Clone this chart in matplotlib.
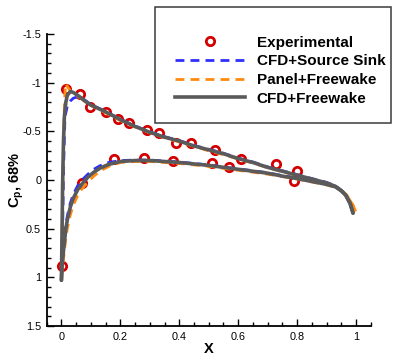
import matplotlib
matplotlib.use("Agg")
import matplotlib.pyplot as plt
from matplotlib.lines import Line2D
from matplotlib.patches import Rectangle
from matplotlib.ticker import MultipleLocator, FuncFormatter

plt.rcParams['font.family'] = ['Liberation Sans', 'DejaVu Sans']
plt.rcParams['mathtext.fontset'] = 'custom'
plt.rcParams['mathtext.rm'] = 'Liberation Sans'
plt.rcParams['mathtext.bf'] = 'Liberation Sans:bold'

# ---------------- data ----------------
exp_x_upper = [0.014, 0.062, 0.098, 0.152, 0.193, 0.229, 0.289, 0.330, 0.39, 0.44, 0.52, 0.61, 0.73, 0.80]
exp_cp_upper = [-0.94, -0.88, -0.75, -0.70, -0.63, -0.59, -0.51, -0.48, -0.38, -0.38, -0.31, -0.22, -0.16, -0.09]
exp_x_lower = [0.002, 0.07, 0.178, 0.28, 0.38, 0.51, 0.57, 0.79]
exp_cp_lower = [0.88, 0.03, -0.22, -0.23, -0.20, -0.17, -0.13, 0.01]

# CFD + Freewake
cfdfw_x_upper = [0.0, 0.002, 0.004, 0.007, 0.01, 0.015, 0.02, 0.03, 0.04, 0.06, 0.08, 0.10, 0.15, 0.20,
                 0.25, 0.30, 0.35, 0.40, 0.45, 0.50, 0.55, 0.60, 0.65, 0.70, 0.75, 0.80, 0.85, 0.90,
                 0.93, 0.95, 0.965, 0.98, 0.99]
cfdfw_cp_upper = [1.03, 0.55, 0.05, -0.40, -0.65, -0.80, -0.87, -0.91, -0.90, -0.86, -0.81, -0.77, -0.70, -0.62,
                  -0.55, -0.49, -0.44, -0.40, -0.35, -0.31, -0.27, -0.22, -0.18, -0.13, -0.09, -0.05, -0.01, 0.03,
                  0.065, 0.11, 0.155, 0.24, 0.34]
cfdfw_x_lower = [0.0, 0.003, 0.008, 0.015, 0.02, 0.03, 0.04, 0.055, 0.07, 0.09, 0.11, 0.13, 0.16, 0.20,
                 0.25, 0.30, 0.35, 0.40, 0.45, 0.50, 0.55, 0.60, 0.65, 0.70, 0.75, 0.80, 0.85, 0.90,
                 0.93, 0.95, 0.965, 0.98, 0.99]
cfdfw_cp_lower = [1.03, 0.85, 0.70, 0.50, 0.41, 0.28, 0.19, 0.10, 0.04, -0.03, -0.08, -0.12, -0.16, -0.19,
                  -0.20, -0.20, -0.19, -0.18, -0.165, -0.15, -0.13, -0.11, -0.09, -0.07, -0.04, -0.015, 0.015, 0.045,
                  0.07, 0.11, 0.155, 0.24, 0.34]

# CFD + Source Sink
cfdss_x_upper = [0.0, 0.004, 0.008, 0.012, 0.02, 0.03, 0.04, 0.06, 0.08, 0.10, 0.15, 0.20,
                 0.25, 0.30, 0.35, 0.40, 0.45, 0.50, 0.55, 0.60, 0.65, 0.70, 0.75, 0.80, 0.85, 0.90,
                 0.93, 0.95, 0.965, 0.98, 0.99]
cfdss_cp_upper = [1.03, 0.50, -0.20, -0.65, -0.76, -0.81, -0.84, -0.86, -0.82, -0.775, -0.705, -0.625,
                  -0.555, -0.495, -0.445, -0.405, -0.355, -0.315, -0.275, -0.225, -0.185, -0.135, -0.095, -0.055, -0.015, 0.025,
                  0.06, 0.105, 0.15, 0.235, 0.34]
cfdss_x_lower = [0.0, 0.003, 0.008, 0.015, 0.02, 0.03, 0.04, 0.055, 0.07, 0.09, 0.11, 0.13, 0.16, 0.20,
                 0.25, 0.30, 0.35, 0.40, 0.45, 0.50, 0.55, 0.60, 0.65, 0.70, 0.75, 0.80, 0.85, 0.90,
                 0.93, 0.95, 0.965, 0.98, 0.99]
cfdss_cp_lower = [1.03, 0.82, 0.66, 0.46, 0.37, 0.24, 0.15, 0.06, 0.00, -0.06, -0.11, -0.145, -0.18, -0.20,
                  -0.205, -0.205, -0.195, -0.185, -0.17, -0.155, -0.135, -0.115, -0.095, -0.075, -0.045, -0.02, 0.01, 0.04,
                  0.065, 0.105, 0.15, 0.235, 0.34]

# Panel + Freewake
panel_x_upper = [0.0, 0.003, 0.006, 0.009, 0.012, 0.015, 0.02, 0.03, 0.04, 0.06, 0.08, 0.10, 0.15, 0.20,
                 0.25, 0.30, 0.35, 0.40, 0.45, 0.50, 0.55, 0.60, 0.65, 0.70, 0.75, 0.80, 0.85, 0.90,
                 0.93, 0.95, 0.97, 0.99, 1.0]
panel_cp_upper = [1.0, 0.40, -0.20, -0.65, -0.90, -0.99, -0.96, -0.92, -0.89, -0.85, -0.81, -0.765, -0.69, -0.61,
                  -0.545, -0.485, -0.435, -0.39, -0.345, -0.30, -0.26, -0.215, -0.175, -0.125, -0.085, -0.045, -0.005, 0.035,
                  0.065, 0.10, 0.16, 0.26, 0.33]
panel_x_lower = [0.0, 0.003, 0.008, 0.015, 0.02, 0.03, 0.04, 0.055, 0.07, 0.09, 0.11, 0.13, 0.16, 0.20,
                 0.25, 0.30, 0.35, 0.40, 0.45, 0.50, 0.55, 0.60, 0.65, 0.70, 0.75, 0.80, 0.85, 0.90,
                 0.93, 0.95, 0.97, 0.99, 1.0]
panel_cp_lower = [1.0, 0.90, 0.78, 0.60, 0.50, 0.36, 0.26, 0.16, 0.09, 0.02, -0.04, -0.09, -0.14, -0.18,
                  -0.19, -0.19, -0.18, -0.17, -0.155, -0.14, -0.12, -0.10, -0.08, -0.06, -0.035, -0.01, 0.02, 0.05,
                  0.075, 0.11, 0.16, 0.26, 0.33]

labels = ["Experimental", "CFD+Source Sink", "Panel+Freewake", "CFD+Freewake"]
x_ticks = [0, 0.2, 0.4, 0.6, 0.8, 1]
y_ticks = [-1.5, -1, -0.5, 0, 0.5, 1, 1.5]

# ---------------- styles ----------------
RED = '#d40000'
BLUE = '#2f2fff'
ORANGE = '#ff8a10'
GRAY = '#5a5a5a'

fig = plt.figure(figsize=(4.01, 3.56), dpi=100)
ax = fig.add_axes([46.7 / 401, 1 - 326 / 356, (370.7 - 46.7) / 401, (326 - 34) / 356])

dash = (3.2, 2.2)
ax.plot(exp_x_upper, exp_cp_upper, 'o', ms=6, mfc='none', mec=RED, mew=2, zorder=2)
ax.plot(exp_x_lower, exp_cp_lower, 'o', ms=6, mfc='none', mec=RED, mew=2, zorder=2)
for xs, ys in [(cfdss_x_upper, cfdss_cp_upper), (cfdss_x_lower, cfdss_cp_lower)]:
    ax.plot(xs, ys, color=BLUE, lw=2, ls=(0, dash), zorder=3)
for xs, ys in [(panel_x_upper, panel_cp_upper), (panel_x_lower, panel_cp_lower)]:
    ax.plot(xs, ys, color=ORANGE, lw=2, ls=(0, dash), zorder=3)
for xs, ys in [(cfdfw_x_upper, cfdfw_cp_upper), (cfdfw_x_lower, cfdfw_cp_lower)]:
    ax.plot(xs, ys, color=GRAY, lw=2.6, solid_capstyle='round', zorder=4)

ax.set_xlim(-0.05, 1.05)
ax.set_ylim(1.5, -1.5)

ax.spines['top'].set_visible(False)
ax.spines['right'].set_visible(False)
for s in ['left', 'bottom']:
    ax.spines[s].set_linewidth(1.3)
    ax.spines[s].set_color('black')

ax.set_xticks(x_ticks)
ax.set_yticks(y_ticks)
ax.xaxis.set_minor_locator(MultipleLocator(0.05))
ax.yaxis.set_minor_locator(MultipleLocator(0.1))
fmt = FuncFormatter(lambda v, p: ('%g' % v))
ax.xaxis.set_major_formatter(fmt)
ax.yaxis.set_major_formatter(fmt)
ax.tick_params(which='major', direction='in', length=4.8, width=1.0, labelsize=7.8, pad=4)
ax.tick_params(which='minor', direction='in', length=2.8, width=1.0)

ax.set_xlabel('X', fontsize=10.5, fontweight='bold', labelpad=0)
ax.set_ylabel(r'$\mathbf{C_p}$, 68%', fontsize=10.5, fontweight='bold')
ax.yaxis.set_label_coords(-0.065, 0.5)

handles = [
    Line2D([], [], ls='none', marker='o', ms=6, mfc='none', mec=RED, mew=2),
    Line2D([], [], color=BLUE, lw=2, ls=(0, dash)),
    Line2D([], [], color=ORANGE, lw=2, ls=(0, dash)),
    Line2D([], [], color=GRAY, lw=2.6),
]
leg = fig.legend(handles, labels, loc='upper left', bbox_to_anchor=(175 / 401, 1 - 35.5 / 356),
                 frameon=False, borderpad=0, borderaxespad=0, handlelength=4.6, handletextpad=0.75,
                 labelspacing=0.31, prop={'weight': 'bold', 'size': 11})
fig.patches.append(Rectangle((155 / 401, 1 - 122.7 / 356), (391 - 155) / 401, (122.7 - 6.7) / 356,
                             transform=fig.transFigure, fill=False, edgecolor='#3a3a3a', lw=1.1))

fig.savefig('out.png', dpi=100)
